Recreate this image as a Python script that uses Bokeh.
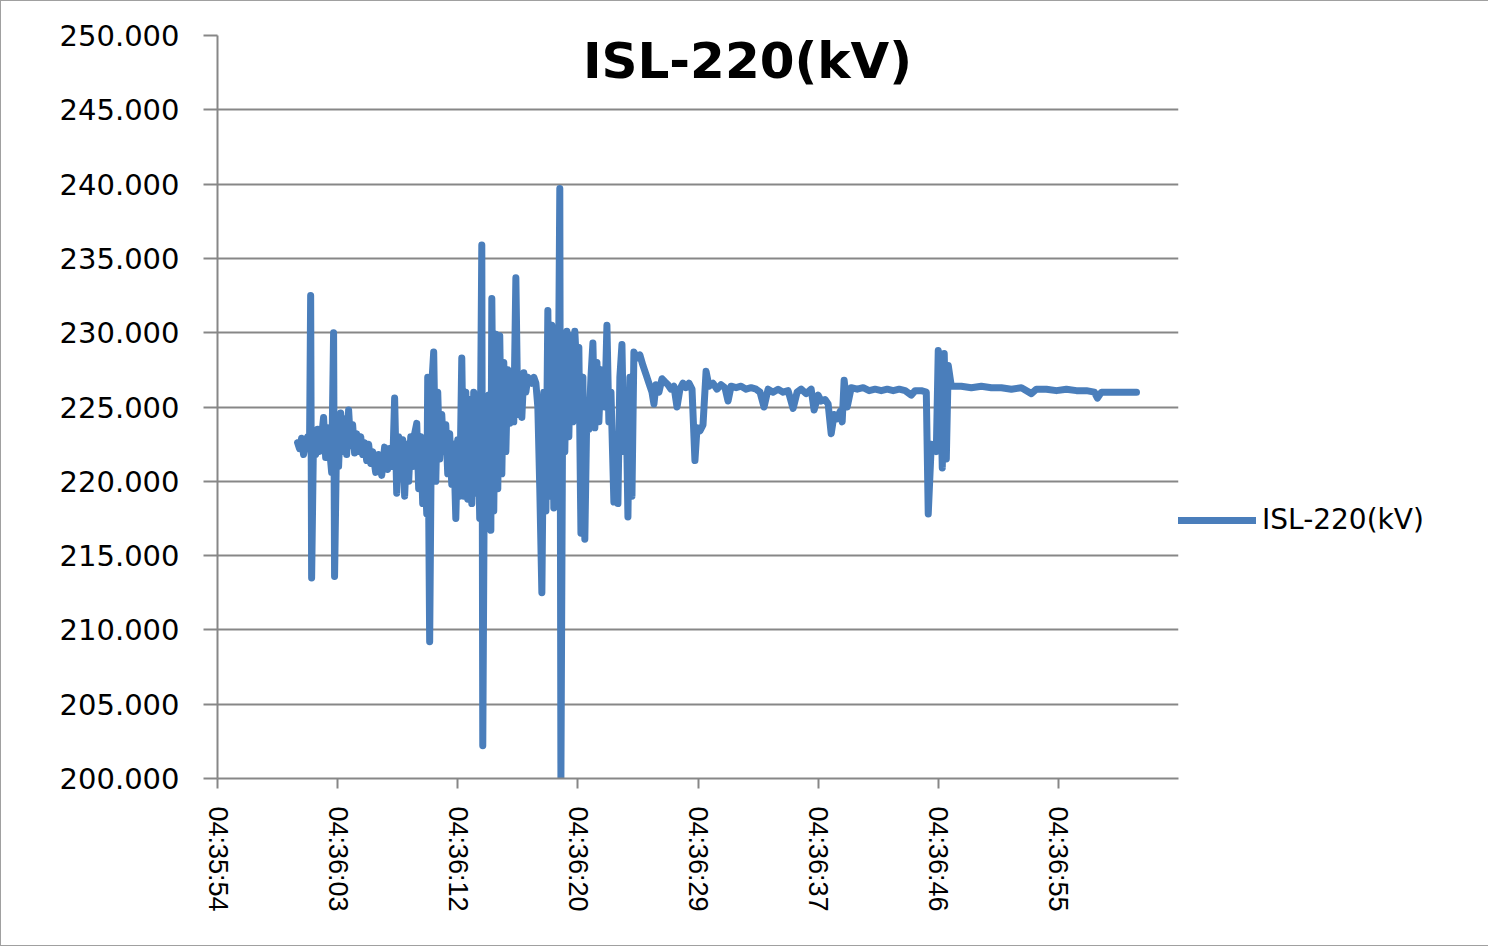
from bokeh.plotting import figure
from bokeh.models import (ColumnDataSource, Range1d, FixedTicker, PrintfTickFormatter,
                          Legend, LegendItem, Label)
from bokeh.embed import file_html
from bokeh.resources import INLINE

# ---- data: seconds after 04:36:00 and voltage (kV) ----
t_sec = [0.00, 0.14, 0.29, 0.43, 0.58, 0.72, 0.86, 0.94, 1.01, 1.15, 1.30, 1.44, 1.58, 1.73, 1.87,
         2.02, 2.16, 2.30, 2.45, 2.59, 2.66, 2.81, 2.95, 3.10, 3.24, 3.38, 3.53, 3.67, 3.82, 3.96,
         4.10, 4.25, 4.39, 4.54, 4.68, 4.82, 4.97, 5.11, 5.26, 5.40, 5.62, 5.83, 6.05, 6.26, 6.48,
         6.62, 6.84, 6.98, 7.13, 7.27, 7.42, 7.56, 7.70, 7.85, 7.99, 8.14, 8.28, 8.42, 8.57, 8.71,
         8.86, 9.00, 9.14, 9.29, 9.36, 9.50, 9.65, 9.79, 9.94, 10.08, 10.22, 10.37, 10.51, 10.66, 10.80,
         10.94, 11.09, 11.23, 11.38, 11.52, 11.66, 11.81, 11.95, 12.10, 12.24, 12.38, 12.53, 12.67, 12.82, 12.96,
         13.10, 13.25, 13.32, 13.46, 13.61, 13.75, 13.90, 13.97, 14.11, 14.26, 14.40, 14.54, 14.69, 14.83, 14.98,
         15.12, 15.26, 15.41, 15.55, 15.70, 15.84, 15.98, 16.13, 16.27, 16.42, 16.56, 16.70, 16.85, 16.99, 17.14,
         17.28, 17.42, 17.57, 17.71, 17.86, 18.00, 18.14, 18.29, 18.43, 18.58, 18.72, 18.86, 18.94, 19.08, 19.22,
         19.37, 19.51, 19.66, 19.80, 19.94, 20.09, 20.23, 20.38, 20.52, 20.66, 20.81, 20.95, 21.10, 21.24, 21.38,
         21.53, 21.67, 21.82, 21.96, 22.10, 22.25, 22.39, 22.54, 22.75, 22.90, 23.04, 23.18, 23.33, 23.47, 23.62,
         23.76, 23.90, 24.05, 24.19, 24.41, 24.62, 24.84, 25.06, 25.27, 25.49, 25.63, 25.78, 25.99, 26.21, 26.42,
         26.64, 26.86, 27.07, 27.29, 27.50, 27.72, 27.94, 28.15, 28.37, 28.58, 28.73, 28.94, 29.16, 29.38, 29.59,
         29.88, 30.17, 30.46, 30.74, 30.96, 31.18, 31.54, 31.90, 32.26, 32.62, 32.98, 33.26, 33.55, 33.84, 34.20,
         34.56, 34.92, 35.28, 35.64, 35.93, 36.22, 36.58, 36.94, 37.15, 37.44, 37.66, 37.94, 38.16, 38.38, 38.59,
         38.81, 39.02, 39.17, 39.31, 39.53, 39.82, 40.25, 40.68, 41.11, 41.54, 41.98, 42.41, 42.84, 43.27, 43.70,
         44.14, 44.42, 44.86, 45.22, 45.36, 45.58, 45.79, 45.94, 46.08, 46.22, 46.37, 46.51, 46.66, 46.80, 47.02,
         47.74, 48.46, 49.18, 49.90, 50.62, 51.34, 52.06, 52.78, 53.14, 53.86, 54.58, 55.30, 56.02, 56.74, 57.31,
         57.53, 57.82, 58.54, 59.26, 59.83, 60.34]

kv = [222.6, 222.2, 222.9, 221.8, 222.5, 223.0, 222.4, 232.5, 213.5, 223.2, 221.8, 223.5, 222.0, 223.0, 224.3,
      221.6, 223.6, 222.2, 220.6, 230.0, 213.6, 223.0, 221.0, 224.6, 222.0, 224.2, 221.8, 224.8, 222.4, 223.8,
      221.9, 223.2, 222.0, 223.0, 221.8, 222.6, 221.4, 222.5, 221.2, 222.0, 220.6, 221.8, 220.4, 222.3, 220.8,
      222.2, 221.0, 225.6, 219.2, 223.0, 220.5, 222.8, 219.0, 222.5, 220.0, 223.0, 221.0, 223.2, 223.9, 219.5,
      223.0, 218.5, 222.0, 217.8, 227.0, 209.2, 226.5, 228.7, 220.0, 226.0, 221.5, 224.5, 222.0, 223.8, 220.5,
      223.2, 219.8, 222.5, 217.5, 222.8, 219.0, 228.3, 219.0, 226.0, 218.8, 225.5, 218.5, 226.0, 219.2, 224.5,
      217.5, 235.9, 202.2, 225.0, 217.0, 225.8, 216.7, 232.3, 218.0, 229.9, 219.5, 229.8, 220.5, 228.0, 222.0,
      227.5, 223.9, 226.0, 224.0, 233.7, 224.5, 227.0, 224.3, 227.3, 226.0, 227.0, 226.8, 226.6, 227.0, 226.6,
      225.0, 219.5, 212.5, 226.0, 218.0, 231.5, 219.0, 230.5, 218.2, 229.0, 221.0, 239.7, 200.0, 228.0, 222.0,
      230.1, 223.0, 229.8, 224.0, 230.1, 227.3, 229.0, 216.5, 227.0, 216.1, 225.0, 223.5, 227.0, 229.3, 223.6,
      228.0, 224.0, 227.5, 226.0, 225.0, 230.5, 224.0, 226.0, 218.6, 221.0, 218.5, 227.0, 229.2, 222.0, 226.0,
      217.6, 227.0, 219.0, 228.7, 228.3, 228.5, 227.8, 227.2, 226.6, 226.0, 225.2, 226.5, 226.0, 226.9, 226.7,
      226.5, 226.2, 226.4, 225.0, 226.2, 226.6, 226.3, 226.6, 226.2, 221.4, 223.6, 223.4, 223.8, 227.4, 226.4,
      226.6, 226.2, 226.5, 226.3, 225.4, 226.4, 226.3, 226.4, 226.2, 226.3, 226.2, 226.0, 225.0, 226.2, 226.0,
      226.2, 226.0, 226.1, 224.9, 226.0, 226.2, 225.9, 226.2, 224.8, 225.8, 225.4, 225.5, 225.2, 223.2, 224.5,
      224.2, 224.7, 224.0, 226.8, 225.0, 226.3, 226.2, 226.3, 226.1, 226.2, 226.1, 226.2, 226.1, 226.2, 226.1,
      225.8, 226.1, 226.1, 226.0, 217.8, 222.5, 222.3, 222.0, 228.8, 228.0, 220.9, 228.6, 221.5, 227.8, 226.4,
      226.4, 226.3, 226.4, 226.3, 226.3, 226.2, 226.3, 225.9, 226.2, 226.2, 226.1, 226.2, 226.1, 226.1, 226.0,
      225.6, 226.0, 226.0, 226.0, 226.0, 226.0]

series_name = "ISL-220(kV)"
chart_title = "ISL-220(kV)"
x_tick_labels = ["04:35:54", "04:36:03", "04:36:12", "04:36:20",
                 "04:36:29", "04:36:37", "04:36:46", "04:36:55"]
y_ticks = [200, 205, 210, 215, 220, 225, 230, 235, 240, 245, 250]

# time axis: milliseconds since midnight; Excel major unit = 0.0001 day
start_sec = 4 * 3600 + 36 * 60
x_ms = [(start_sec + t) * 1000.0 for t in t_sec]
tick_ms = [int(round((0.1916 + 0.0001 * k) * 86400000)) for k in range(len(x_tick_labels))]
x_end = int(round(0.1924 * 86400000))

src = ColumnDataSource(data=dict(x=x_ms, y=kv))

GRID = "#878787"
p = figure(frame_width=961, frame_height=743,
           min_border_left=216, min_border_right=300,
           min_border_top=34, min_border_bottom=167,
           x_range=Range1d(tick_ms[0], x_end), y_range=Range1d(200, 250),
           output_backend="svg", toolbar_location=None,
           background_fill_color="white", border_fill_color="white")
p.outline_line_color = None
p.styles = {"border": "1px solid #a0a0a0"}

r = p.line("x", "y", source=src, line_color="#4a7ebb", line_width=7,
           line_join="round", line_cap="round")

# axes
p.xaxis.ticker = FixedTicker(ticks=tick_ms)
p.xaxis.major_label_overrides = dict(zip(tick_ms, x_tick_labels))
p.xaxis.major_label_orientation = "vertical"
p.xaxis.major_label_text_font = "Liberation Sans"
p.xaxis.major_label_text_font_size = "27px"
p.xaxis.major_label_standoff = 18
p.xaxis.major_tick_out = 10
p.xaxis.major_tick_in = 0

p.yaxis.ticker = FixedTicker(ticks=y_ticks)
p.yaxis.formatter = PrintfTickFormatter(format="%.3f")
p.yaxis.major_label_text_font = "DejaVu Sans"
p.yaxis.major_label_text_font_size = "29px"
p.yaxis.major_label_standoff = 24
p.yaxis.major_tick_out = 14
p.yaxis.major_tick_in = 0

for ax in (p.xaxis, p.yaxis):
    ax.axis_line_color = GRID
    ax.axis_line_width = 2
    ax.major_tick_line_color = GRID
    ax.major_tick_line_width = 2
    ax.minor_tick_line_color = None
    ax.major_label_text_color = "#000000"

p.xgrid.grid_line_color = None
p.ygrid.grid_line_color = GRID
p.ygrid.grid_line_width = 2

# title inside the plot area
p.add_layout(Label(x=530, y=718, x_units="screen", y_units="screen",
                   text=chart_title, text_align="center", text_baseline="middle",
                   text_font="DejaVu Sans", text_font_style="bold",
                   text_font_size="50px", text_color="#000000"))

legend = Legend(items=[LegendItem(label=series_name, renderers=[r])],
                location=(0, 242), glyph_width=78, glyph_height=20,
                label_standoff=6, padding=0, margin=0,
                border_line_color=None, background_fill_alpha=0,
                label_text_font="DejaVu Sans", label_text_font_size="28px",
                label_text_color="#000000")
p.add_layout(legend, "right")

open("out.html", "w").write(file_html(p, INLINE))
